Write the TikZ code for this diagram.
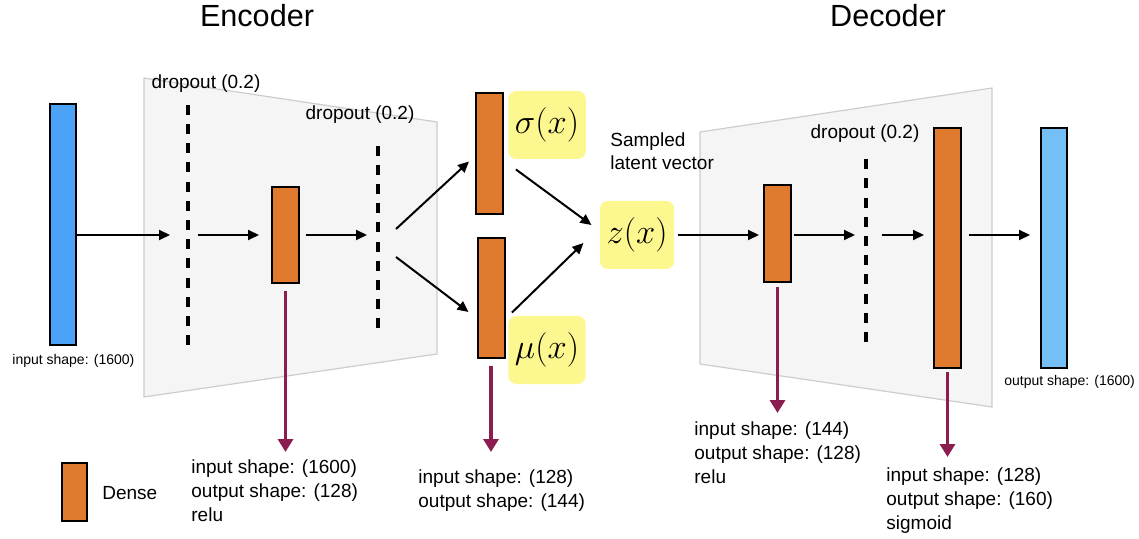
\documentclass[tikz,border=0pt]{standalone}
\usepackage[no-math]{fontspec}
\setmainfont{Liberation Sans}
\usetikzlibrary{arrows.meta}
\definecolor{densefill}{HTML}{E07A2E}
\definecolor{inblue}{HTML}{4BA3F7}
\definecolor{outblue}{HTML}{74BFF6}
\definecolor{shapepurple}{HTML}{8B1D50}
\definecolor{notefill}{HTML}{FCF78E}
\definecolor{panelgray}{HTML}{F5F5F5}
\definecolor{paneledge}{HTML}{CDCDCD}
\begin{document}
\begin{tikzpicture}[x=0.5pt,y=-0.5pt,
    dense/.style={draw, line width=1pt, fill=densefill, inner sep=0pt, minimum width=13.5pt},
    vec/.style={draw, line width=1pt, inner sep=0pt, minimum width=13pt, minimum height=120pt},
    note/.style={fill=notefill, rounded corners=4pt, minimum width=37pt, minimum height=34pt, font=\fontsize{16}{18}\selectfont},
    dropline/.style={inner sep=0pt, minimum width=0pt},
    dropdash/.style={line width=2.2pt, dash pattern=on 5pt off 4.6pt},
    panel/.style={fill=panelgray, draw=paneledge, line width=0.6pt},
    arr/.style={-{Triangle[length=5.5pt,width=5pt]}, line width=1pt},
    shapearr/.style={-{Triangle[length=6.5pt,width=7.5pt]}, line width=1.6pt, draw=shapepurple},
    lbl/.style={inner sep=0pt, font=\fontsize{9.5}{12}\selectfont},
    small/.style={inner sep=0pt, font=\fontsize{7}{8}\selectfont},
    title/.style={inner sep=0pt, font=\fontsize{15.3}{18}\selectfont}]
  \path[use as bounding box] (0,0) rectangle (1139,539);

  % panels
  \draw[panel] (144,78) -- (437,122) -- (437,354) -- (144,397) -- cycle;
  \draw[panel] (700,132) -- (992,88) -- (992,407) -- (700,364) -- cycle;

  \node[title] (enc) at (257,16) {Encoder};
  \node[title] (dec) at (888,16) {Decoder};

  % encoder
  \node[vec, fill=inblue, minimum height=120.5pt] (in) at (63,225) {};
  \node[small, anchor=west] (inshape) at (12,361) {input shape: (1600)};
  \node[dropline, minimum height=120.2pt] (dr1) at (188,225.5) {};
  \node[lbl] (dl1) at (206,84) {dropout (0.2)};
  \node[dense, minimum height=48pt] (e1) at (285.5,235) {};
  \node[dropline, minimum height=91.4pt] (dr2) at (378,237.5) {};
  \node[lbl] (dl2) at (360,115) {dropout (0.2)};
  \draw[dropdash] (dr1.north) -- (dr1.south);
  \draw[dropdash] (dr2.north) -- (dr2.south);

  % latent
  \node[dense, minimum height=60.5pt] (sig) at (489.5,153.5) {};
  \node[dense, minimum height=60pt] (mu) at (491,298) {};
  \node[note] (sigl) at (547,125) {$\sigma(x)$};
  \node[note] (mul) at (547,350) {$\mu(x)$};
  \node[note] (zl) at (637,235) {$z(x)$};
  \node[lbl, anchor=north west, align=left, font=\fontsize{9.5}{11.5}\selectfont] (samp) at (610,132) {Sampled\\latent vector};

  % decoder
  \node[dense, minimum height=48.5pt] (d1) at (777.5,233.5) {};
  \node[dropline, minimum height=91.4pt] (dr3) at (866,251) {};
  \node[lbl] (dl3) at (865,134) {dropout (0.2)};
  \draw[dropdash] (dr3.north) -- (dr3.south);
  \node[dense, minimum height=120pt] (d2) at (947.5,248) {};
  \node[vec, fill=outblue] (out) at (1054,248) {};
  \node[small, anchor=west] (outshape) at (1004,382) {output shape: (1600)};

  % flow
  \draw[arr] (in.east |- e1) -- ([xshift=-9pt]dr1 |- e1);
  \draw[arr] ([xshift=5pt]dr1 |- e1) -- ([xshift=-6pt]e1.west);
  \draw[arr] ([xshift=3pt]e1.east) -- ([xshift=-5.5pt]dr2 |- e1);
  \draw[arr] ([shift={(18,-6)}]dr2 |- e1) -- ([shift={(-6,8)}]sig.west);
  \draw[arr] ([shift={(18,22)}]dr2 |- e1) -- ([shift={(-8,14)}]mu.west);
  \draw[arr] ([shift={(8,10)}]sigl.south west) -- ([shift={(-8,-10)}]zl.west);
  \draw[arr] ([shift={(4,-3)}]mul.north west) -- ([shift={(-16,8)}]zl.west);
  \draw[arr] ([xshift=1.5pt]zl.east) -- ([xshift=-2pt]d1.west |- zl);
  \draw[arr] ([xshift=1pt]d1.east |- zl) -- ([xshift=-5.5pt]dr3 |- zl);
  \draw[arr] ([xshift=8pt]dr3 |- zl) -- ([xshift=-4.5pt]d2.west |- zl);
  \draw[arr] ([xshift=3.5pt]d2.east |- zl) -- ([xshift=-5pt]out.west |- zl);

  % layer shapes
  \node[lbl, anchor=north west, align=left] (l1) at (191,459) {input shape: (1600)\\output shape: (128)\\relu};
  \node[lbl, anchor=north west, align=left] (l2) at (418,469) {input shape: (128)\\output shape: (144)};
  \node[lbl, anchor=north west, align=left] (l3) at (694,421) {input shape: (144)\\output shape: (128)\\relu};
  \node[lbl, anchor=north west, align=left] (l4) at (886,467) {input shape: (128)\\output shape: (160)\\sigmoid};
  \draw[shapearr] ([yshift=-3.5pt]e1.south) -- ([yshift=3.5pt]e1.south |- l1.north);
  \draw[shapearr] ([yshift=-3.5pt]mu.south) -- ([yshift=8.5pt]mu.south |- l2.north);
  \draw[shapearr] ([yshift=-2pt]d1.south) -- ([yshift=4pt]d1.south |- l3.north);
  \draw[shapearr] ([yshift=-1.5pt]d2.south) -- ([yshift=5pt]d2.south |- l4.north);

  % legend
  \node[dense, minimum width=12.5pt, minimum height=29pt] (key) at (74.5,492) {};
  \node[lbl, anchor=west] (keytext) at (102,493) {Dense};
\end{tikzpicture}
\end{document}
